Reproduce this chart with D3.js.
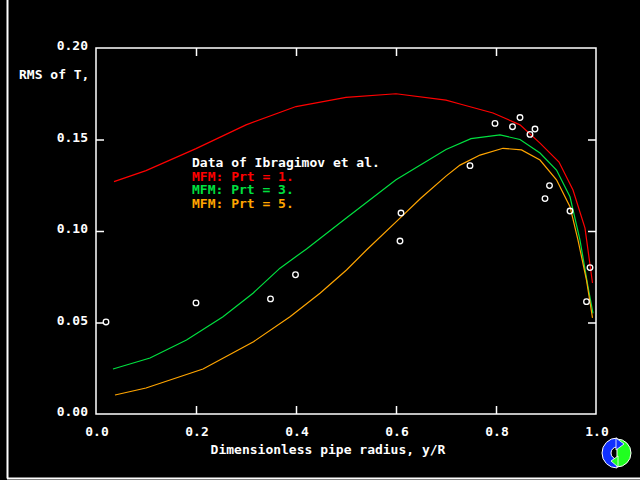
<!DOCTYPE html>
<html><head><meta charset="utf-8">
<script src="https://cdn.jsdelivr.net/npm/d3@7"></script>
<style>html,body{margin:0;padding:0;background:#000;}svg{display:block;}</style>
</head><body>
<script>
const xTicks = [0.0, 0.2, 0.4, 0.6, 0.8, 1.0];
const yTicks = [0.00, 0.05, 0.10, 0.15, 0.20];
const dataX = [0.02, 0.2, 0.349, 0.399, 0.608, 0.61, 0.748, 0.798, 0.833, 0.848, 0.868, 0.878, 0.898, 0.907, 0.948, 0.981, 0.988];
const dataY = [0.0503, 0.0607, 0.0629, 0.0761, 0.0945, 0.1098, 0.1357, 0.1588, 0.157, 0.162, 0.1528, 0.1557, 0.1177, 0.1248, 0.1109, 0.0614, 0.080];
const prt1X = [0.036, 0.1, 0.2, 0.3, 0.4, 0.5, 0.6, 0.7, 0.728, 0.794, 0.848, 0.888, 0.926, 0.954, 0.978, 0.993];
const prt1Y = [0.127, 0.133, 0.145, 0.158, 0.168, 0.173, 0.175, 0.1715, 0.1694, 0.1645, 0.158, 0.148, 0.1377, 0.1224, 0.1016, 0.0716];
const prt3X = [0.034, 0.108, 0.181, 0.254, 0.314, 0.368, 0.421, 0.5, 0.6, 0.7, 0.75, 0.808, 0.848, 0.888, 0.921, 0.948, 0.968, 0.984, 0.994];
const prt3Y = [0.0246, 0.0306, 0.0404, 0.0532, 0.066, 0.0797, 0.0902, 0.107, 0.128, 0.1445, 0.1505, 0.1525, 0.150, 0.1426, 0.1333, 0.1187, 0.095, 0.0696, 0.055];
const prt5X = [0.038, 0.1, 0.214, 0.315, 0.388, 0.448, 0.501, 0.541, 0.608, 0.65, 0.7, 0.728, 0.768, 0.814, 0.851, 0.888, 0.921, 0.948, 0.964, 0.981, 0.993];
const prt5Y = [0.0104, 0.0142, 0.0246, 0.0395, 0.0532, 0.066, 0.0787, 0.0896, 0.107, 0.118, 0.13, 0.136, 0.1415, 0.1452, 0.1443, 0.1388, 0.128, 0.1133, 0.095, 0.0732, 0.0525];
const legendLabels = ["Data of Ibragimov et al.", "MFM: Prt = 1.", "MFM: Prt = 3.", "MFM: Prt = 5."];
const legendColors = ["#ffffff", "#ff0000", "#00e040", "#ffa500"];

(function () {
const W = 640, H = 480;
const mL = 96, mR = 596, mT = 48, mB = 414;
const font = "'DejaVu Sans Mono', monospace";

const svg = d3.select("body").append("svg").attr("width", W).attr("height", H).style("background", "#000");

const x = d3.scaleLinear().domain([0, 1]).range([mL, mR]);
const y = d3.scaleLinear().domain([0, 0.2]).range([mB, mT]);

svg.append("line").attr("x1", 7.5).attr("x2", 7.5).attr("y1", 0).attr("y2", 478.5).attr("stroke", "#fff").attr("stroke-width", 2);
svg.append("line").attr("x1", 7).attr("x2", 640).attr("y1", 478.5).attr("y2", 478.5).attr("stroke", "#fff").attr("stroke-width", 2);

svg.append("rect").attr("x", mL).attr("y", mT).attr("width", mR - mL).attr("height", mB - mT)
  .attr("fill", "none").attr("stroke", "#fff").attr("stroke-width", 1.5);

const tl = 8;
const inner = xTicks.slice(1, -1);
const innerY = yTicks.slice(1, -1);
const styleAxis = g => { g.select(".domain").remove(); g.selectAll("line").attr("stroke", "#fff").attr("stroke-width", 1.5); };
svg.append("g").attr("transform", `translate(0,${mB})`)
  .call(d3.axisTop(x).tickValues(inner).tickSize(tl).tickFormat("")).call(styleAxis);
svg.append("g").attr("transform", `translate(0,${mT})`)
  .call(d3.axisBottom(x).tickValues(inner).tickSize(tl).tickFormat("")).call(styleAxis);
svg.append("g").attr("transform", `translate(${mL},0)`)
  .call(d3.axisRight(y).tickValues(innerY).tickSize(tl).tickFormat("")).call(styleAxis);
svg.append("g").attr("transform", `translate(${mR},0)`)
  .call(d3.axisLeft(y).tickValues(innerY).tickSize(tl).tickFormat("")).call(styleAxis);

svg.append("g").selectAll("text").data(xTicks).join("text")
  .attr("x", d => x(d) + 1).attr("y", 436).attr("text-anchor", "middle")
  .attr("fill", "#fff").attr("font-family", font).attr("font-weight", "bold").attr("font-size", 13)
  .text(d => d3.format(".1f")(d));
svg.append("g").selectAll("text").data(yTicks).join("text")
  .attr("x", 88).attr("y", d => y(d) + 2).attr("text-anchor", "end")
  .attr("fill", "#fff").attr("font-family", font).attr("font-weight", "bold").attr("font-size", 13)
  .text(d => d3.format(".2f")(d));

svg.append("text").attr("x", 328).attr("y", 454).attr("text-anchor", "middle")
  .attr("fill", "#fff").attr("font-family", font).attr("font-weight", "bold").attr("font-size", 13)
  .text("Dimensionless pipe radius, y/R");
svg.append("text").attr("x", 19).attr("y", 79).attr("text-anchor", "start")
  .attr("fill", "#fff").attr("font-family", font).attr("font-weight", "bold").attr("font-size", 13)
  .text("RMS of T,");

const line = d3.line().x(d => x(d[0])).y(d => y(d[1]));
const series = [
  [prt1X, prt1Y, "#ff0000"],
  [prt3X, prt3Y, "#00e040"],
  [prt5X, prt5Y, "#ffa500"]
];
series.forEach(([xs, ys, c]) => {
  svg.append("path").datum(xs.map((v, i) => [v, ys[i]]))
    .attr("d", line).attr("fill", "none").attr("stroke", c).attr("stroke-width", 1.2);
});

svg.append("g").selectAll("circle").data(dataX.map((v, i) => [v, dataY[i]])).join("circle")
  .attr("cx", d => x(d[0])).attr("cy", d => y(d[1])).attr("r", 2.8)
  .attr("fill", "none").attr("stroke", "#fff").attr("stroke-width", 1.3);

svg.append("g").selectAll("text").data(legendLabels).join("text")
  .attr("x", 192).attr("y", (d, i) => 167 + i * 13.5)
  .attr("fill", (d, i) => legendColors[i]).attr("font-family", font).attr("font-weight", "bold").attr("font-size", 13)
  .text(d => d);

// icon (bottom right)
const ic = svg.append("g").attr("transform", "translate(617,453)");
ic.append("path").attr("d", d3.arc()({innerRadius: 0, outerRadius: 14, startAngle: Math.PI * 0.0, endAngle: Math.PI * 1.0}))
  .attr("fill", "#20ff20").attr("stroke", "#fff").attr("stroke-width", 1);
ic.append("path").attr("d", d3.arc()({innerRadius: 6, outerRadius: 15, startAngle: Math.PI * 1.0, endAngle: Math.PI * 2.0}))
  .attr("fill", "#1030ff").attr("stroke", "#fff").attr("stroke-width", 1);
ic.append("path").attr("d", "M-1,-15 L7,-9 L-1,-3 Z").attr("fill", "#1030ff").attr("stroke", "#fff").attr("stroke-width", 0.8);
ic.append("path").attr("d", "M1,14 L-6,8 L1,3 Z").attr("fill", "#20ff20").attr("stroke", "#fff").attr("stroke-width", 0.8);
})();
</script>
</body></html>
